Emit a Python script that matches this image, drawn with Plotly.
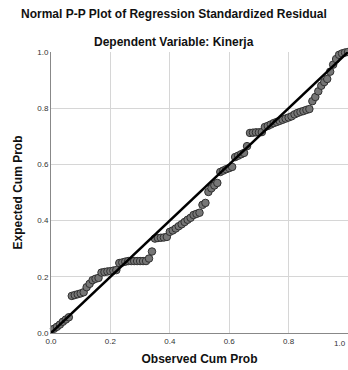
import plotly.graph_objects as go

observed = [0.01, 0.02, 0.03, 0.04, 0.05, 0.06,
            0.07, 0.08, 0.09, 0.10, 0.11,
            0.12, 0.13, 0.14, 0.15, 0.16,
            0.17, 0.18, 0.19, 0.20, 0.21, 0.22,
            0.23, 0.24, 0.25, 0.26, 0.27, 0.28, 0.29, 0.30, 0.31, 0.32,
            0.33, 0.34, 0.35,
            0.36, 0.37, 0.38, 0.39,
            0.40, 0.41, 0.42, 0.43, 0.44, 0.45, 0.46, 0.47, 0.48, 0.49, 0.50,
            0.51, 0.52,
            0.53, 0.54, 0.55, 0.56,
            0.57, 0.58, 0.59, 0.60, 0.61,
            0.62, 0.63, 0.64, 0.65, 0.66,
            0.67, 0.68, 0.69, 0.70, 0.71,
            0.72, 0.73, 0.74, 0.75, 0.76, 0.77, 0.78, 0.79, 0.80, 0.81, 0.82, 0.83, 0.84, 0.85, 0.86, 0.87,
            0.88, 0.89, 0.90, 0.91, 0.92, 0.93, 0.94, 0.95, 0.96, 0.97, 0.98, 0.99, 1.00]

expected = [0.015, 0.022, 0.030, 0.040, 0.048, 0.056,
            0.132, 0.135, 0.138, 0.141, 0.145,
            0.163, 0.175, 0.188, 0.193, 0.196,
            0.215, 0.217, 0.219, 0.220, 0.222, 0.224,
            0.249, 0.251, 0.254, 0.256, 0.256, 0.256, 0.256, 0.256, 0.256, 0.256,
            0.265, 0.290, 0.336,
            0.338, 0.339, 0.340, 0.342,
            0.360, 0.365, 0.372, 0.380, 0.387, 0.395, 0.403, 0.410, 0.420, 0.424, 0.428,
            0.456, 0.463,
            0.502, 0.515, 0.525, 0.534,
            0.573, 0.578, 0.583, 0.587, 0.591,
            0.626, 0.631, 0.636, 0.641, 0.665,
            0.712, 0.713, 0.714, 0.714, 0.715,
            0.733, 0.737, 0.742, 0.747, 0.751, 0.755, 0.759, 0.763, 0.767, 0.771, 0.778, 0.783, 0.787, 0.790, 0.794, 0.797,
            0.825, 0.840, 0.860, 0.880, 0.893, 0.904, 0.930, 0.955, 0.975, 0.990, 0.995, 0.998, 1.000]

ref_line = [0.0, 1.0]
tick_vals = [0.0, 0.2, 0.4, 0.6, 0.8, 1.0]
tick_text = ["0.0", "0.2", "0.4", "0.6", "0.8", "1.0"]

W, H = 348, 370
ML, MR, MT, MB = 51, 0, 52, 37
plot_w = W - ML - MR
plot_h = H - MT - MB

fig = go.Figure()
fig.add_trace(go.Scatter(x=observed, y=expected, mode="markers",
                         marker=dict(size=7.5, color="#767676",
                                     line=dict(color="#303030", width=1)),
                         cliponaxis=False, showlegend=False, hoverinfo="skip"))
fig.add_trace(go.Scatter(x=ref_line, y=ref_line, mode="lines",
                         line=dict(color="#000000", width=2.5),
                         showlegend=False, hoverinfo="skip"))

font_family = "Liberation Sans, Arial, sans-serif"
fig.update_layout(
    width=W, height=H,
    margin=dict(l=ML, r=MR, t=MT, b=MB),
    paper_bgcolor="white", plot_bgcolor="white",
    font=dict(family=font_family, color="#222222"),
    xaxis=dict(range=[0, 1], tickvals=tick_vals, ticktext=tick_text,
               showgrid=True, gridcolor="#d6d6d6", gridwidth=1,
               showline=True, linecolor="#888888", linewidth=1,
               zeroline=False, ticks="", tickfont=dict(size=8, color="#333333"),
               automargin=False,
               title=dict(text="<b>Observed Cum Prob</b>", font=dict(size=12, color="#111111"), standoff=10)),
    yaxis=dict(range=[0, 1], tickvals=tick_vals, ticktext=tick_text,
               showgrid=True, gridcolor="#d6d6d6", gridwidth=1,
               showline=True, linecolor="#888888", linewidth=1,
               zeroline=False, ticks="", tickfont=dict(size=8, color="#333333"),
               automargin=False,
               title=dict(text="<b>Expected Cum Prob</b>", font=dict(size=12, color="#111111"), standoff=12)),
)
fig.add_annotation(text="<b>Normal P-P Plot of Regression Standardized Residual</b>",
                   x=(174 - ML) / plot_w, xref="paper", xanchor="center",
                   y=(333 - 14) / plot_h, yref="paper", yanchor="middle",
                   showarrow=False, font=dict(size=12, color="#111111"))
fig.add_annotation(text="<b>Dependent Variable: Kinerja</b>",
                   x=(174 - ML) / plot_w, xref="paper", xanchor="center",
                   y=(333 - 42) / plot_h, yref="paper", yanchor="middle",
                   showarrow=False, font=dict(size=12, color="#111111"))
# last x tick label, kept inside the page
fig.add_annotation(text=tick_text[-1], x=tick_vals[-1], xref="x", xanchor="right",
                   y=0, yref="paper", yanchor="top", yshift=-4,
                   showarrow=False, font=dict(size=8, color="#333333"))

fig.write_html("out.html", config={"displayModeBar": False, "staticPlot": True},
               post_script="document.body.style.margin='0';document.body.style.overflow='hidden';")
